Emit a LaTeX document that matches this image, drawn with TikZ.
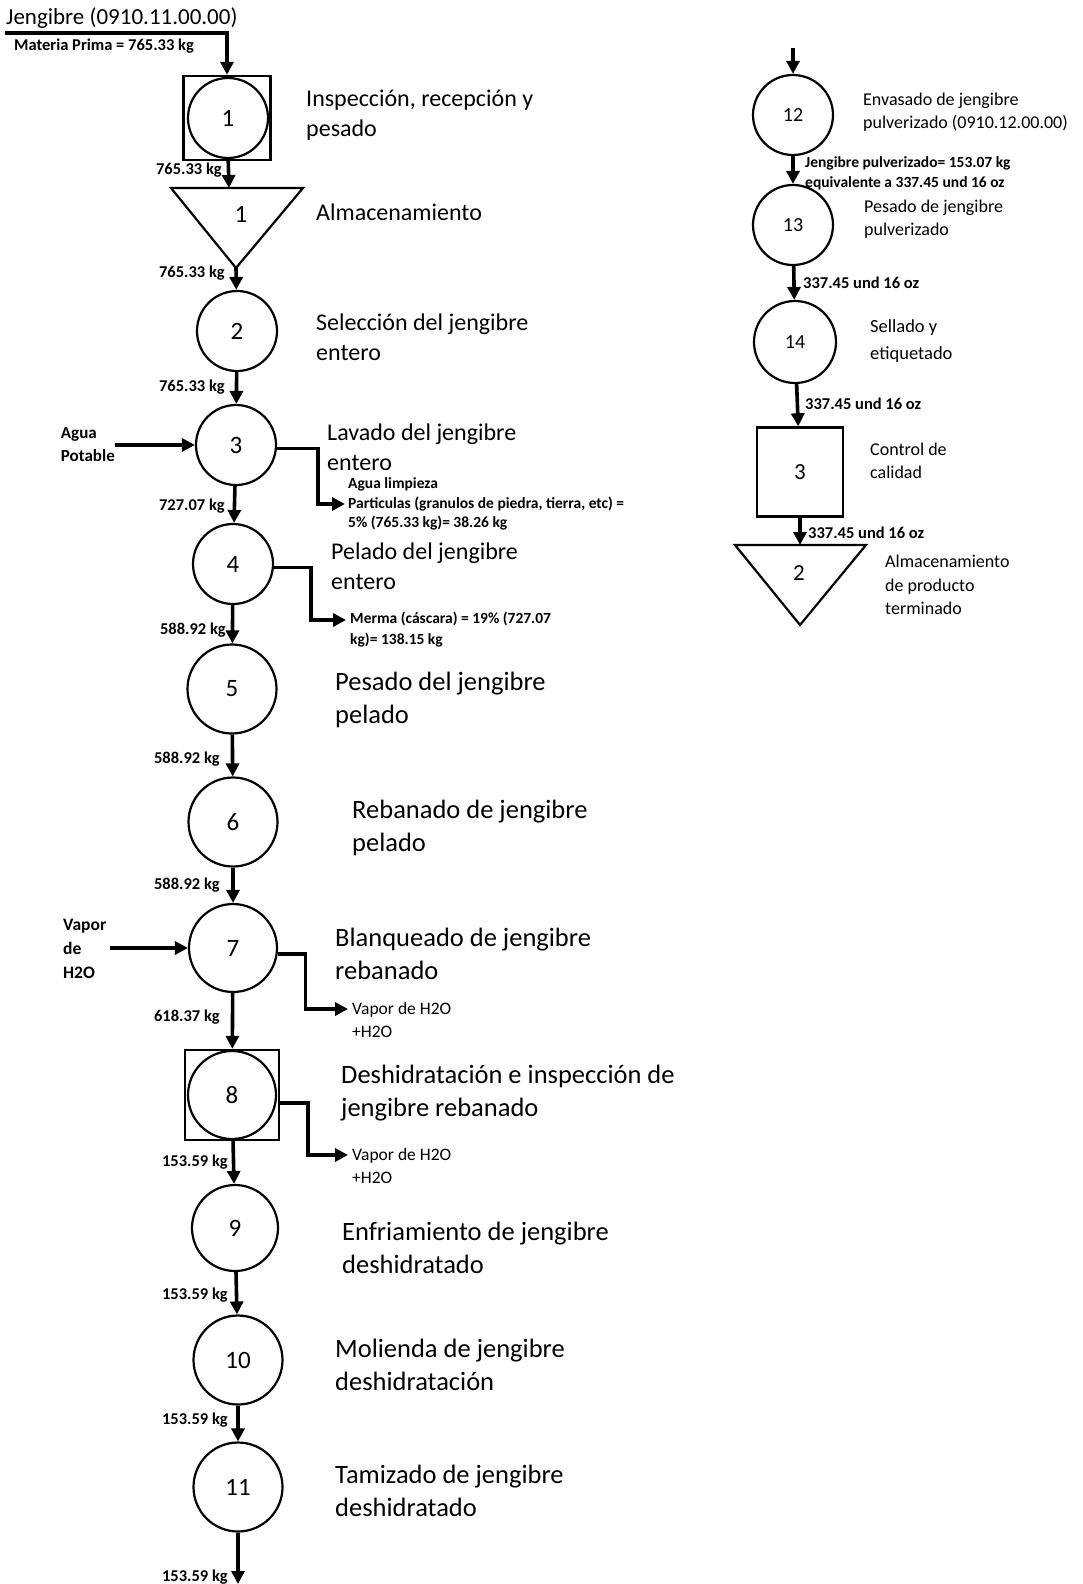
\documentclass[tikz,border=0pt]{standalone}
\usepackage{fontspec}
\setmainfont{Carlito}
\usetikzlibrary{arrows.meta,positioning}

\begin{document}
\begin{tikzpicture}[x=1pt,y=-1pt,>={Triangle[length=13pt,width=13pt]},
                    op/.style={circle,draw,line width=2.2pt,inner sep=0pt,minimum size=80pt,
                               font=\fontsize{25}{25}\selectfont},
                    opr/.style={op,font=\fontsize{20}{20}\selectfont},
                    insp/.style={rectangle,draw,line width=2.4pt,inner sep=0pt,
                                 minimum width=87pt,minimum height=84pt},
                    store/.style={line width=2.2pt,line join=miter},
                    flow/.style={->,line width=3.6pt},
                    qty/.style={inner sep=0pt,align=left,font=\bfseries\fontsize{16.5}{21}\selectfont},
                    desc/.style={anchor=west,align=left,inner sep=0pt,font=\fontsize{24}{30}\selectfont},
                    descb/.style={desc,font=\fontsize{26.5}{33}\selectfont},
                    note/.style={anchor=west,align=left,inner sep=0pt,font=\fontsize{18}{23.5}\selectfont}]
  \useasboundingbox (0,0) rectangle (1082,1584);

  % entrada
  \node[anchor=west,inner sep=0pt,font=\fontsize{23}{23}\selectfont] (jeng) at (6,18) {Jengibre (0910.11.00.00)};
  \node[qty,anchor=west] (mp) at (14,46) {Materia Prima = 765.33 kg};
  \coordinate (mpin) at (5,33);

  % columna principal
  \node[insp] (b1) at (227,118) {};
  \node[op]   (c1) at (228,118) {1};
  \draw[store] (171,188) -- (303,188) -- (236,268) -- cycle;
  \coordinate (t1top) at (229,188);
  \coordinate (t1tip) at (236,268);
  \node[font=\fontsize{25}{25}\selectfont] (t1) at (241,214) {1};
  \node[op] (c2) at (237,331) {2};
  \node[op] (c3) at (236,445) {3};
  \node[op] (c4) at (233,564) {4};
  \node[op,minimum size=89pt] (c5) at (232,689) {5};
  \node[op,minimum size=89pt] (c6) at (233,822) {6};
  \node[op,minimum size=88pt] (c7) at (233,948) {7};
  \node[insp,minimum width=94pt,minimum height=90pt] (b8) at (232,1095) {};
  \node[op,minimum size=88pt] (c8) at (232,1095) {8};
  \node[op,minimum size=86pt] (c9) at (235,1228) {9};
  \node[op,minimum size=89pt] (c10) at (238,1360) {10};
  \node[op,minimum size=89pt] (c11) at (238,1487) {11};
  \coordinate (out11) at (238,1584);

  \node[desc] (d1) at (306,115) {Inspección, recepción y\\pesado};
  \node[desc] (dt1) at (316,212) {Almacenamiento};
  \node[desc] (d2) at (316,337) {Selección del jengibre\\entero};
  \node[desc] (d3) at (327,447) {Lavado del jengibre\\entero};
  \node[desc] (d4) at (331,566) {Pelado del jengibre\\entero};
  \node[descb] (d5) at (335,700) {Pesado del jengibre\\pelado};
  \node[descb] (d6) at (352,828) {Rebanado de jengibre\\pelado};
  \node[descb] (d7) at (335,954) {Blanqueado de jengibre\\rebanado};
  \node[descb] (d8) at (341,1093) {Deshidratación e inspección de\\jengibre rebanado};
  \node[descb] (d9) at (342,1248) {Enfriamiento de jengibre\\deshidratado};
  \node[descb] (d10) at (335,1365) {Molienda de jengibre\\deshidratación};
  \node[descb] (d11) at (335,1491) {Tamizado de jengibre\\deshidratado};

  \draw[flow] (mpin) -| (b1);
  \draw[flow] (b1) -- (t1top);
  \draw[flow] (t1tip) -- (c2);
  \draw[flow] (c2) -- (c3);
  \draw[flow] (c3) -- (c4);
  \draw[flow] (c4) -- (c5);
  \draw[flow] (c5) -- (c6);
  \draw[flow] (c6) -- (c7);
  \draw[flow] (c7) -- (b8);
  \draw[flow] (b8) -- (c9);
  \draw[flow] (c9) -- (c10);
  \draw[flow] (c10) -- (c11);
  \draw[flow] (c11) -- (out11);

  \node[qty,anchor=east] (q1) at (222,170) {765.33 kg};
  \node[qty,anchor=east] (q2) at (225,273) {765.33 kg};
  \node[qty,anchor=east] (q3) at (225,387) {765.33 kg};
  \node[qty,anchor=east] (q4) at (225,506) {727.07 kg};
  \node[qty,anchor=east] (q5) at (226,630) {588.92 kg};
  \node[qty,anchor=east] (q6) at (220,759) {588.92 kg};
  \node[qty,anchor=east] (q7) at (220,885) {588.92 kg};
  \node[qty,anchor=east] (q8) at (220,1017) {618.37 kg};
  \node[qty,anchor=east] (q9) at (228,1162) {153.59 kg};
  \node[qty,anchor=east] (q10) at (228,1295) {153.59 kg};
  \node[qty,anchor=east] (q11) at (228,1420) {153.59 kg};
  \node[qty,anchor=east] (q12) at (228,1577) {153.59 kg};

  % entradas y salidas laterales
  \node[qty,anchor=east,font=\bfseries\fontsize{17}{23}\selectfont] (agua) at (115,445) {Agua\\Potable};
  \draw[flow] (agua) -- (c3);
  \node[qty,anchor=west,font=\bfseries\fontsize{17.5}{24}\selectfont] (vap) at (63,949) {Vapor\\de\\H2O};
  \coordinate (vin) at (110,948);
  \draw[flow] (vin) -- (c7);

  \node[qty,anchor=west,font=\bfseries\fontsize{15.5}{19.5}\selectfont] (w3) at (348,504)
       {Agua limpieza\\Particulas (granulos de piedra, tierra, etc) =\\5\% (765.33 kg)= 38.26 kg};
  \draw[flow] (c3.-5) -- ++(41,0) |- ([xshift=-3pt]w3.west);
  \node[qty,anchor=west,font=\bfseries\fontsize{15.5}{21}\selectfont] (w4) at (350,630)
       {Merma (cáscara) = 19\% (727.07\\kg)= 138.15 kg};
  \draw[flow] (c4.-5) -- ++(37,0) |- ([xshift=-4pt,yshift=10pt]w4.west);
  \node[note,font=\fontsize{17.5}{23}\selectfont] (v7) at (352,1020) {Vapor de H2O\\+H2O};
  \draw[flow] (c7.-8) -- ++(28,0) |- ([xshift=-4pt,yshift=11pt]v7.west);
  \node[note,font=\fontsize{17.5}{23}\selectfont] (v8) at (352,1166) {Vapor de H2O\\+H2O};
  \draw[flow] ([yshift=-8pt]b8.east) -- ++(28,0) |- ([xshift=-4pt,yshift=11pt]v8.west);

  % columna derecha
  \coordinate (in12) at (793,48);
  \node[opr] (c12) at (793,115) {12};
  \node[opr] (c13) at (793,225) {13};
  \node[opr,minimum size=82pt] (c14) at (795,342) {14};
  \node[insp,minimum width=86pt,minimum height=89pt,font=\fontsize{23}{23}\selectfont] (b3) at (800,472) {\raisebox{-6pt}{3}};
  \draw[store] (735,545) -- (866,545) -- (800,625) -- cycle;
  \coordinate (t2top) at (800,545);
  \node[font=\fontsize{23}{23}\selectfont] (t2) at (799,573) {2};

  \node[note] (d12) at (863,112) {Envasado de jengibre\\pulverizado (0910.12.00.00)};
  \node[note] (d13) at (864,219) {Pesado de jengibre\\pulverizado};
  \node[note,font=\fontsize{18.5}{27}\selectfont] (d14) at (870,341) {Sellado y\\etiquetado};
  \node[note] (db3) at (870,461) {Control de\\calidad};
  \node[note] (dt2) at (885,585) {Almacenamiento\\de producto\\terminado};

  \draw[flow] (in12) -- (c12);
  \draw[flow] (c12) -- (c13);
  \draw[flow] (c13) -- (c14);
  \draw[flow] (c14) -- (b3);
  \draw[flow] (b3) -- (t2top);

  \node[qty,anchor=west,font=\bfseries\fontsize{15.5}{20}\selectfont] (q13) at (805,173) {Jengibre pulverizado= 153.07 kg\\equivalente a 337.45 und 16 oz};
  \node[qty,anchor=west] (q14) at (803,283) {337.45 und 16 oz};
  \node[qty,anchor=west] (q15) at (805,404) {337.45 und 16 oz};
  \node[qty,anchor=west] (q16) at (808,533) {337.45 und 16 oz};
\end{tikzpicture}
\end{document}
